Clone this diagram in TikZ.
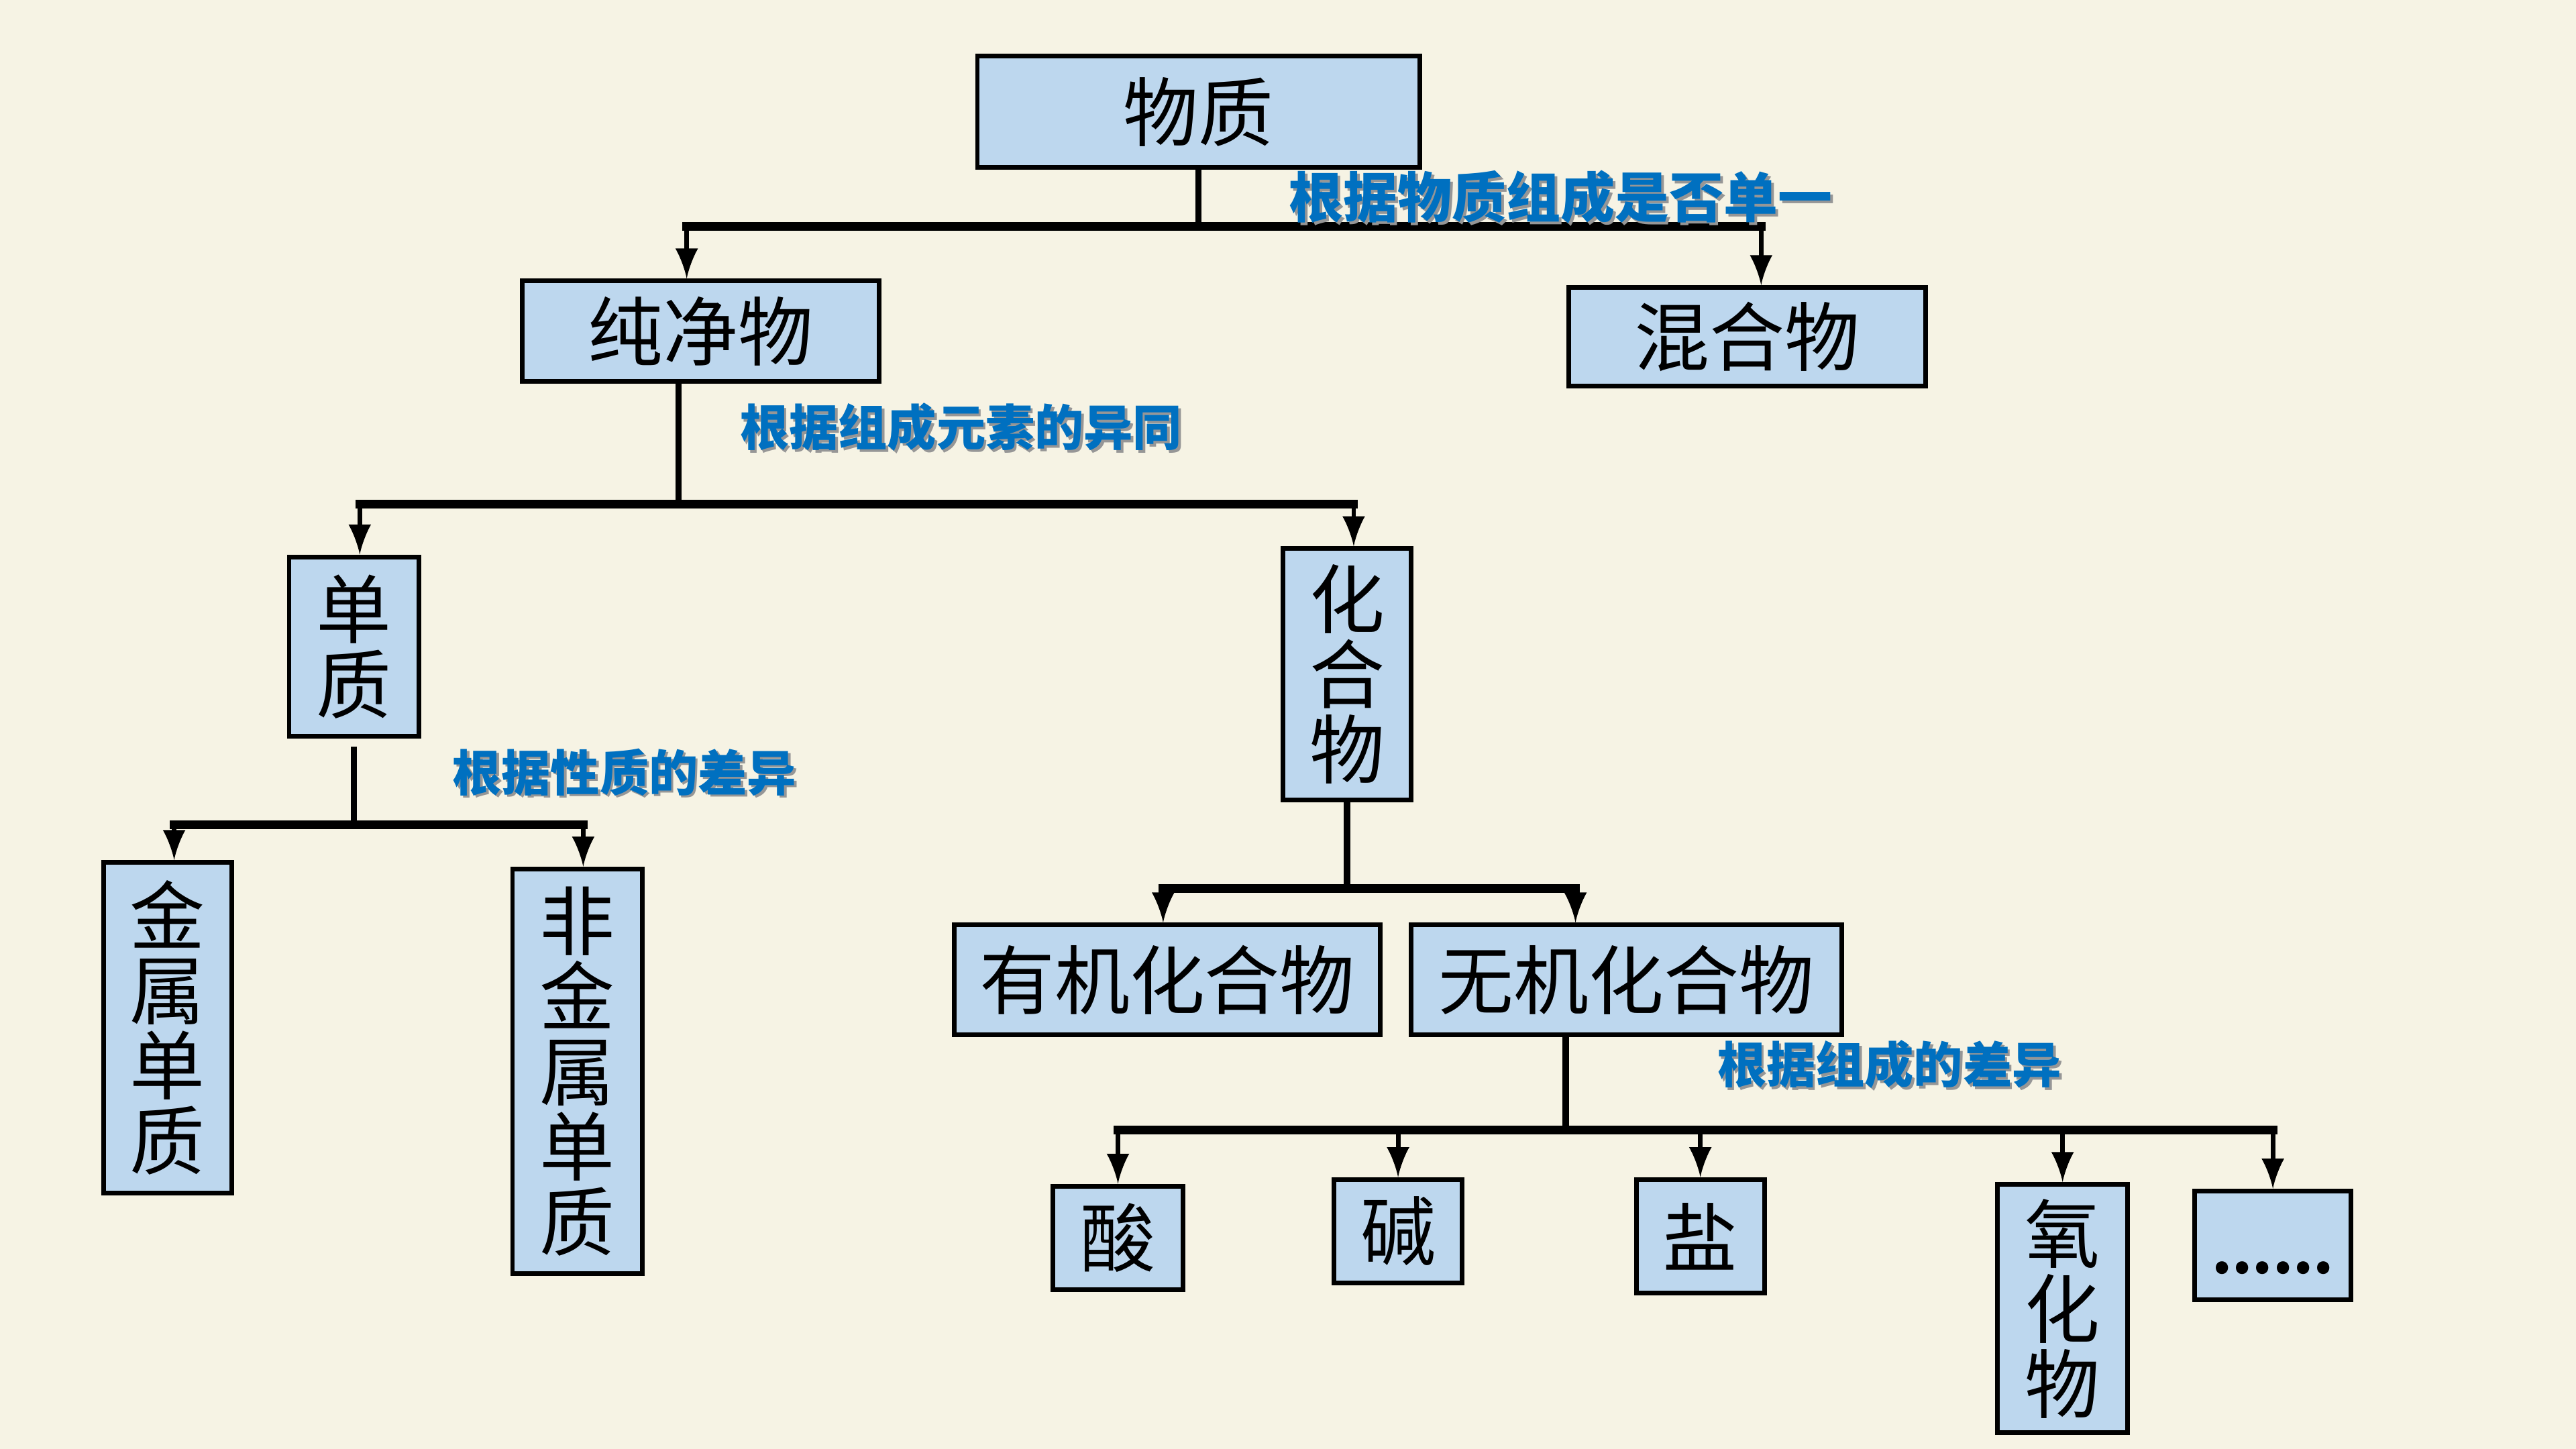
\documentclass[tikz,border=0pt]{standalone}
\usepackage{fontspec}
\setmainfont{Noto Sans CJK SC}
\usetikzlibrary{arrows}
\definecolor{F}{RGB}{246, 243, 228}
\definecolor{C}{RGB}{189, 215, 238}
\definecolor{L}{RGB}{0, 112, 192}
\definecolor{S}{RGB}{150, 150, 150}

\tikzset{
  caja/.style={draw=black, fill=C, line width=0.8pt, inner sep=0pt, align=center,
    font=\fontsize{13}{13}\selectfont},
  etiqueta/.style={text=L, inner sep=0pt, font=\bfseries\fontsize{8.5}{8.5}\selectfont},
  sombra/.style={etiqueta, text=S},
  barra/.style={line width=1.5pt, line cap=rect},
  tallo/.style={line width=1.1pt},
  flecha/.style={-latex, line width=0.8pt}
}

\begin{document}
\begin{tikzpicture}[x=0.01cm, y=-0.01cm]
  %# FONDO
  \fill[F] (0,0) rectangle (1568,882);
  \useasboundingbox (0,0) rectangle (1568,882);

  %# PRIMER NIVEL
  \node[caja, minimum width=2.69cm, minimum height=0.68cm] (wuzhi) at (729.5,68) {物质};
  \node[caja, minimum width=2.17cm, minimum height=0.61cm] (chunjingwu) at (426.5,201.5) {纯净物};
  \node[caja, minimum width=2.17cm, minimum height=0.60cm] (hunhewu) at (1063.5,205) {混合物};

  \coordinate (r1a) at (418,138);
  \coordinate (r1b) at (1072,138);
  \draw[tallo] (wuzhi.south) -- (wuzhi.south |- r1a);
  \draw[barra] (r1a) -- (r1b);
  \draw[flecha] (r1a) -- (r1a |- chunjingwu.north);
  \draw[flecha] (r1b) -- (r1b |- hunhewu.north);
  \node[sombra, font=\bfseries\fontsize{9.4}{9.4}\selectfont] (s1) at (951.5,121.5) {根据物质组成是否单一};
  \node[etiqueta, font=\bfseries\fontsize{9.4}{9.4}\selectfont] (l1) at (950,120) {根据物质组成是否单一};

  %# PURO
  \node[caja, minimum width=0.79cm, minimum height=1.09cm] (danzhi) at (215.5,393.5) {单\\质};
  \node[caja, minimum width=0.78cm, minimum height=1.53cm] (huahewu) at (820,410.5) {化\\合\\物};

  \coordinate (r2) at (413,307);
  \coordinate (r2a) at (219,307);
  \coordinate (r2b) at (824,307);
  \draw[tallo] (r2 |- chunjingwu.south) -- (r2);
  \draw[barra] (r2a) -- (r2b);
  \draw[flecha] (r2a) -- (r2a |- danzhi.north);
  \draw[flecha] (r2b) -- (r2b |- huahewu.north);
  \node[sombra] (s2) at (586.5,261.5) {根据组成元素的异同};
  \node[etiqueta] (l2) at (585,260) {根据组成元素的异同};

  %# SIMPLE
  \node[caja, minimum width=0.78cm, minimum height=2.01cm] (jinshu) at (102,625.5) {金\\属\\单\\质};
  \node[caja, minimum width=0.79cm, minimum height=2.46cm] (feijinshu) at (351.5,652) {非\\金\\属\\单\\质};

  \coordinate (r3a) at (106,502);
  \coordinate (r3b) at (355,502);
  \draw[tallo] ([yshift=-0.05cm]danzhi.south) -- (danzhi.south |- r3a);
  \draw[barra] (r3a) -- (r3b);
  \draw[flecha] (r3a) -- (r3a |- jinshu.north);
  \draw[flecha] (r3b) -- (r3b |- feijinshu.north);
  \node[sombra] (s3) at (381.5,471.5) {根据性质的差异};
  \node[etiqueta] (l3) at (380,470) {根据性质的差异};

  %# COMPUESTO
  \node[caja, minimum width=2.59cm, minimum height=0.67cm] (youji) at (710.5,596.5) {有机化合物};
  \node[caja, minimum width=2.62cm, minimum height=0.67cm] (wuji) at (990,596.5) {无机化合物};

  \coordinate (r4a) at (708,541);
  \coordinate (r4b) at (959,541);
  \draw[tallo] (huahewu.south) -- (huahewu.south |- r4a);
  \draw[barra] (r4a) -- (r4b);
  \draw[flecha] (r4a) -- (r4a |- youji.north);
  \draw[flecha] (r4b) -- (r4b |- wuji.north);

  %# INORGANICO
  \node[caja, minimum width=0.79cm, minimum height=0.63cm] (suan) at (680.5,753.5) {酸};
  \node[caja, minimum width=0.78cm, minimum height=0.63cm] (jian) at (851,749.5) {碱};
  \node[caja, minimum width=0.78cm, minimum height=0.69cm] (yan) at (1035,752.5) {盐};
  \node[caja, minimum width=0.79cm, minimum height=1.51cm] (yanghuawu) at (1255.5,796.5) {氧\\化\\物};
  \node[caja, minimum width=0.95cm, minimum height=0.66cm] (qita) at (1383.5,758) {\vphantom{物}\bfseries\fontsize{10}{10}\selectfont ......};

  \coordinate (r5) at (953,688);
  \draw[tallo] (r5 |- wuji.south) -- (r5);
  \draw[barra] (suan.north |- r5) -- (qita.north |- r5);
  \foreach \n in {suan,jian,yan,yanghuawu,qita}
    \draw[flecha] (\n.north |- r5) -- (\n.north);
  \node[sombra] (s4) at (1151.5,649.5) {根据组成的差异};
  \node[etiqueta] (l4) at (1150,648) {根据组成的差异};
\end{tikzpicture}
\end{document}
